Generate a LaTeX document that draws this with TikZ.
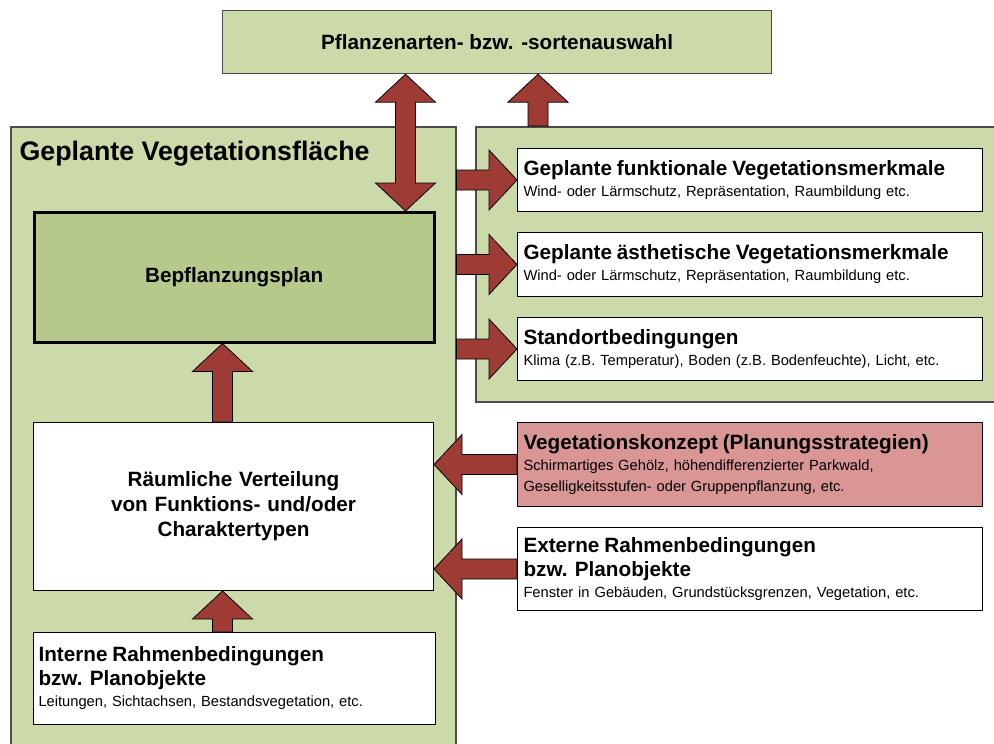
\documentclass[tikz,border=0pt]{standalone}
\usepackage{fontspec}
\setmainfont{Liberation Sans}
\usetikzlibrary{positioning,calc}

\definecolor{lightgreen}{HTML}{CCDAA9}
\definecolor{plangreen}{HTML}{B6C98B}
\definecolor{arrowred}{HTML}{9E3B35}
\definecolor{konzeptred}{HTML}{D99694}

\newcommand{\hd}{\fontsize{20.7}{24}\bfseries\selectfont}

% block arrow from tail #1 to tip #2
\newcommand{\blockarrow}[2]{%
  \path ($(#2)!28pt!(#1)$) coordinate (ba-h);
  \filldraw[arrowbody] ($(#1)!10pt!90:(#2)$) -- ($(ba-h)!10pt!90:(#2)$)
    -- ($(ba-h)!30pt!90:(#2)$) -- (#2) -- ($(ba-h)!30pt!-90:(#2)$)
    -- ($(ba-h)!10pt!-90:(#2)$) -- ($(#1)!10pt!-90:(#2)$) -- cycle;}

% block arrow with a tip at both ends
\newcommand{\dblarrow}[2]{%
  \path ($(#1)!28pt!(#2)$) coordinate (da-a) ($(#2)!28pt!(#1)$) coordinate (da-b);
  \filldraw[arrowbody] (#1) -- ($(da-a)!30pt!90:(#1)$) -- ($(da-a)!10pt!90:(#1)$)
    -- ($(da-b)!10pt!-90:(#2)$) -- ($(da-b)!30pt!-90:(#2)$) -- (#2)
    -- ($(da-b)!30pt!90:(#2)$) -- ($(da-b)!10pt!90:(#2)$)
    -- ($(da-a)!10pt!-90:(#1)$) -- ($(da-a)!30pt!-90:(#1)$) -- cycle;}

\begin{document}
\begin{tikzpicture}[x=1pt,y=-1pt,font=\fontsize{14.7}{21}\selectfont,
  region/.style={draw=black!70,fill=lightgreen,line width=1.5pt,anchor=north west},
  box/.style={draw=black,fill=white,line width=1pt,anchor=north west,inner xsep=6pt,align=left,text width=453pt},
  arrowbody/.style={fill=arrowred,draw=black,line width=0.8pt,line join=miter}]

\useasboundingbox (0,0) rectangle (994,744);

% draw green areas
\node[region,minimum width=445pt,minimum height=650pt] (flaeche) at (10,126) {};
\node[region,minimum width=540pt,minimum height=275pt] (merkmale) at (475,126) {};
\node[anchor=base west,font=\fontsize{26.8}{30}\bfseries\selectfont] (flaechetitel) at (16,160) {Geplante Vegetationsfläche};

% draw top box
\node[region,line width=1.2pt,minimum width=549pt,minimum height=63pt,font=\hd] (auswahl) at (222,10) {Pflanzenarten- bzw. -sortenauswahl};

% draw left column
\node[region,fill=plangreen,draw=black,line width=2.5pt,minimum width=400pt,minimum height=130pt,font=\hd] (plan) at (33,211) {Bepflanzungsplan};
\node[box,minimum height=168pt,text width=388pt,align=center,font=\fontsize{20.7}{25}\bfseries\selectfont] (raum) at (33,422) {Räumliche Verteilung\\von Funktions- und/oder\\Charaktertypen};
\node[box,minimum height=92pt,text width=392pt,inner xsep=5pt] (intern) at (33,632) {{\hd Interne Rahmenbedingungen}\\[3pt]{\hd bzw. Planobjekte}\\Leitungen, Sichtachsen, Bestandsvegetation, etc.};

% draw right column
\node[box,minimum height=63pt] (funk) at (517,148) {{\hd Geplante funktionale Vegetationsmerkmale}\\Wind- oder Lärmschutz, Repräsentation, Raumbildung etc.};
\node[box,minimum height=64pt] (aesth) at (517,232) {{\hd Geplante ästhetische Vegetationsmerkmale}\\Wind- oder Lärmschutz, Repräsentation, Raumbildung etc.};
\node[box,minimum height=63pt] (standort) at (517,317) {{\hd Standortbedingungen}\\Klima (z.B. Temperatur), Boden (z.B. Bodenfeuchte), Licht, etc.};
\node[box,fill=konzeptred,minimum height=84pt] (konzept) at (517,422) {{\hd Vegetationskonzept (Planungsstrategien)}\\Schirmartiges Gehölz, höhendifferenzierter Parkwald,\\Geselligkeitsstufen- oder Gruppenpflanzung, etc.};
\node[box,minimum height=83pt] (extern) at (517,527) {{\hd Externe Rahmenbedingungen}\\[3pt]{\hd bzw. Planobjekte}\\Fenster in Gebäuden, Grundstücksgrenzen, Vegetation, etc.};

% connect boxes with block arrows
\coordinate (dbl) at ($(plan.north east)+(-30,0)$);
\dblarrow{auswahl.south -| dbl}{dbl}
\coordinate (upr) at ($(auswahl.south west)+(316,0)$);
\blockarrow{merkmale.north -| upr}{upr}
\foreach \bx in {funk,aesth,standort}
{
  \blockarrow{flaeche.east |- \bx.west}{\bx.west}
}
\foreach \bx in {konzept,extern}
{
  \blockarrow{\bx.west}{raum.east |- \bx.west}
}
\coordinate (mid) at ($(raum.north)+(-11,0)$);
\blockarrow{raum.north -| mid}{plan.south -| mid}
\blockarrow{intern.north -| mid}{raum.south -| mid}

\end{tikzpicture}
\end{document}
